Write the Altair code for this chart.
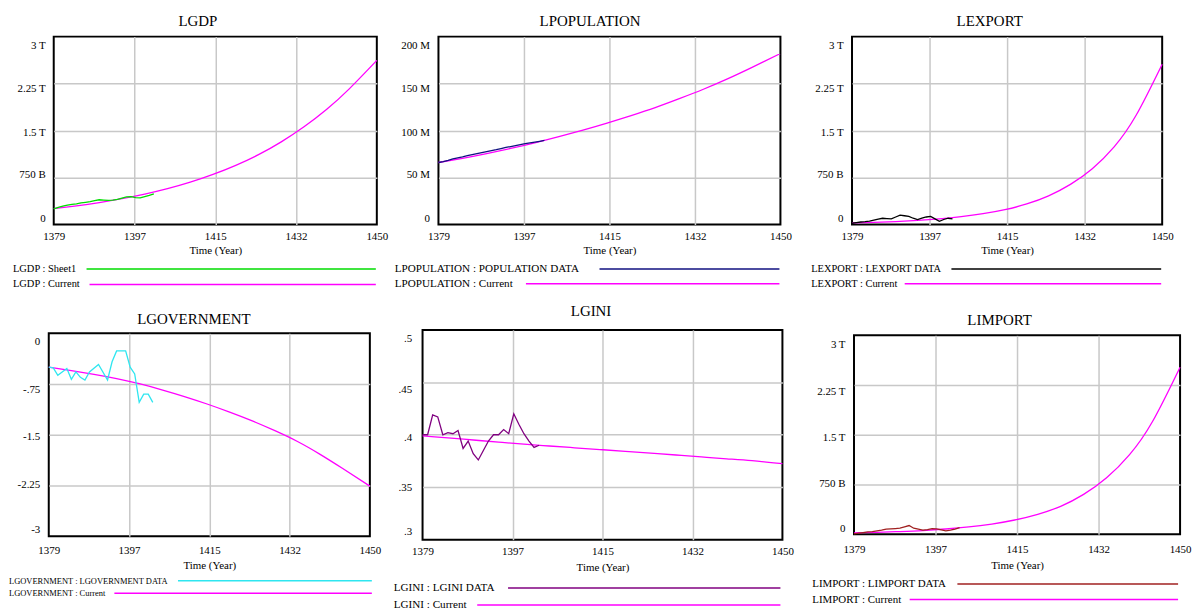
import altair as alt
import pandas as pd

# ---------------- data ----------------
CUR_YEARS = [1379, 1384, 1389, 1394, 1399, 1404, 1409, 1414, 1419, 1424, 1429, 1434, 1439, 1444, 1450]
YEARS_1401 = [1379, 1380, 1381, 1382, 1383, 1384, 1385, 1386, 1387, 1388, 1389, 1390,
              1391, 1392, 1393, 1394, 1395, 1396, 1397, 1398, 1399, 1400, 1401]
YEARS_1402 = YEARS_1401 + [1402]

# LGDP (trillions)
GDP_CURRENT = [0.254, 0.298, 0.35, 0.412, 0.485, 0.572, 0.676, 0.80, 0.945, 1.115, 1.32, 1.56, 1.84, 2.17, 2.62]
GDP_SHEET1 = [0.25, 0.275, 0.295, 0.31, 0.32, 0.33, 0.345, 0.355, 0.365, 0.38, 0.395, 0.39,
              0.385, 0.39, 0.40, 0.42, 0.44, 0.445, 0.43, 0.425, 0.445, 0.465, 0.49]
# LPOPULATION (millions)
POP_CURRENT = [66, 70.5, 75.5, 81, 87, 93.5, 100.5, 108, 116, 124.5, 134, 144, 155, 167, 182]
POP_DATA = [66, 67, 68.2, 69.8, 71, 72, 73.2, 74.3, 75.4, 76.5, 77.6, 78.6,
            79.6, 80.8, 82, 83, 84, 85, 86, 87, 87.8, 88.6, 89.5]
# LEXPORT (trillions)
EXP_CURRENT = [0.025, 0.034, 0.047, 0.065, 0.09, 0.125, 0.172, 0.237, 0.328, 0.457, 0.64, 0.89, 1.24, 1.74, 2.56]
EXP_DATA = [0.02, 0.03, 0.04, 0.045, 0.055, 0.07, 0.085, 0.10, 0.095, 0.09, 0.12, 0.15,
            0.14, 0.13, 0.10, 0.08, 0.10, 0.12, 0.13, 0.09, 0.05, 0.08, 0.10, 0.09]
# LGOVERNMENT
GOV_CURRENT = [-0.50, -0.55, -0.605, -0.668, -0.745, -0.835, -0.935, -1.045, -1.165, -1.295, -1.44, -1.60, -1.79, -2.00, -2.26]
GOV_YEARS = [1379, 1380, 1381, 1383, 1384, 1385, 1386, 1387, 1388, 1390, 1392, 1393,
             1394, 1396, 1397, 1398, 1399, 1400, 1401, 1402]
GOV_DATA = [-0.50, -0.51, -0.62, -0.52, -0.68, -0.57, -0.65, -0.69, -0.57, -0.46, -0.69, -0.42,
            -0.26, -0.26, -0.50, -0.60, -1.02, -0.90, -0.90, -1.02]
# LGINI
GINI_CURRENT = [0.399, 0.397, 0.395, 0.393, 0.391, 0.3893, 0.3876, 0.3859, 0.3842, 0.3825, 0.3807, 0.3789, 0.3771, 0.3753, 0.3725]
GINI_DATA = [0.400, 0.400, 0.419, 0.417, 0.400, 0.402, 0.401, 0.404, 0.387, 0.394, 0.382, 0.376,
             0.385, 0.394, 0.400, 0.400, 0.405, 0.401, 0.420, 0.410, 0.401, 0.394, 0.388, 0.390]
# LIMPORT (trillions)
IMP_CURRENT = [0.02, 0.028, 0.04, 0.055, 0.078, 0.109, 0.153, 0.214, 0.30, 0.42, 0.60, 0.85, 1.20, 1.70, 2.52]
IMP_DATA = [0.005, 0.015, 0.025, 0.035, 0.04, 0.05, 0.06, 0.075, 0.08, 0.085, 0.09, 0.11,
            0.13, 0.09, 0.075, 0.06, 0.07, 0.085, 0.08, 0.065, 0.05, 0.06, 0.075, 0.10]

# tick values and labels
X_TICKS = [1379, 1396.75, 1414.5, 1432.25, 1450]
X_LABELS = ["1379", "1397", "1415", "1432", "1450"]
T_TICKS = [0, 0.75, 1.5, 2.25, 3]
T_LABELS = ["0", "750 B", "1.5 T", "2.25 T", "3 T"]
M_TICKS = [0, 50, 100, 150, 200]
M_LABELS = ["0", "50 M", "100 M", "150 M", "200 M"]
G_TICKS = [-3, -2.25, -1.5, -0.75, 0]
G_LABELS = ["-3", "-2.25", "-1.5", "-.75", "0"]
N_TICKS = [0.3, 0.35, 0.4, 0.45, 0.5]
N_LABELS = [".3", ".35", ".4", ".45", ".5"]

# ---------------- styling ----------------
FONT = "Liberation Serif"
MAGENTA = "#ff00ff"
GRID = "#c8c8c8"
ONE = pd.DataFrame({"k": [0]})


def lab_expr(vals, labels):
    expr = "''"
    for v, l in zip(vals, labels):
        expr = f"abs(datum.value - ({v})) < 1e-6 ? '{l}' : " + expr
    return expr


def ends_hidden(vals):
    lo, hi = vals[0], vals[-1]
    return {"condition": {"test": f"abs(datum.value - ({lo})) < 1e-6 || abs(datum.value - ({hi})) < 1e-6",
                          "value": 0}, "value": 1}


def offsets(vals, offs):
    return {"condition": [{"test": f"abs(datum.value - ({v})) < 1e-6", "value": o} for v, o in zip(vals, offs)],
            "value": 0}


def guide(x1, y1, y2):
    # invisible rule that only pins the layout bounds
    return alt.Chart(ONE).mark_rule(strokeOpacity=0, opacity=0).encode(
        x=alt.value(x1), y=alt.value(y1), y2=alt.value(y2))


def panel(title, cur_vals, data_years, data_vals, data_color, yticks, ylabels, yoffs,
          legend, legend_fs, w, h, title_dx, title_off, xlab_pad, xtitle_y, ylab_pad, guides=()):
    cur_df = pd.DataFrame({"year": CUR_YEARS, "v": cur_vals})
    dat_df = pd.DataFrame({"year": data_years, "v": data_vals})
    x_axis = alt.Axis(values=X_TICKS, labelExpr=lab_expr(X_TICKS, X_LABELS), title="Time (Year)",
                      grid=True, gridColor=GRID, gridWidth=1.5, gridOpacity=ends_hidden(X_TICKS),
                      ticks=False, domain=False, labelPadding=xlab_pad, labelFlush=False,
                      labelOverlap=False, labelFont=FONT, labelFontSize=11, labelColor="black",
                      titleFont=FONT, titleFontSize=11, titleFontWeight="normal", titleColor="black",
                      titleBaseline="alphabetic", titleY=xtitle_y)
    y_axis = alt.Axis(values=yticks, labelExpr=lab_expr(yticks, ylabels), title=None,
                      grid=True, gridColor=GRID, gridWidth=1.5, gridOpacity=ends_hidden(yticks),
                      ticks=False, domain=False, labelPadding=ylab_pad, labelOverlap=False,
                      labelFont=FONT, labelFontSize=11, labelColor="black",
                      labelOffset=offsets(yticks, yoffs))
    x = alt.X("year:Q", scale=alt.Scale(domain=[1379, 1450], nice=False, zero=False), axis=x_axis)
    y = alt.Y("v:Q", scale=alt.Scale(domain=[yticks[0], yticks[-1]], nice=False, zero=False), axis=y_axis)
    cur = alt.Chart(cur_df).mark_line(color=MAGENTA, strokeWidth=1.3, interpolate="natural").encode(x=x, y=y)
    dat = alt.Chart(dat_df).mark_line(color=data_color, strokeWidth=1.3).encode(x=x, y=y)
    ttl = alt.Chart(ONE).mark_text(align="center", baseline="alphabetic", font=FONT, fontSize=15,
                                   color="black").encode(
        x=alt.value(w / 2 + title_dx), y=alt.value(-title_off), text=alt.value(title))
    layers = [cur, dat, ttl]
    for label, col, tx, ty, lx1, lx2 in legend:
        layers.append(alt.Chart(ONE).mark_text(align="left", baseline="middle", font=FONT,
                                               fontSize=legend_fs, color="black")
                      .encode(x=alt.value(tx), y=alt.value(ty), text=alt.value(label)))
        layers.append(alt.Chart(ONE).mark_rule(color=col, strokeWidth=1.5)
                      .encode(x=alt.value(lx1), x2=alt.value(lx2), y=alt.value(ty)))
    for g in guides:
        layers.append(guide(*g))
    return alt.layer(*layers).properties(width=w, height=h)


def spacer(w):
    return alt.Chart(ONE).mark_point(opacity=0, size=1).encode(
        x=alt.value(0), y=alt.value(0)).properties(
        width=w, height=1, view=alt.ViewBackground(stroke="transparent"))


ROW1_OFFS = [-6, -3, 1.5, 5, 9]

p1 = panel("LGDP", GDP_CURRENT, YEARS_1401, GDP_SHEET1, "#00dd00", T_TICKS, T_LABELS, ROW1_OFFS,
           [("LGDP : Sheet1", "#00dd00", -41, 233.7, 33, 324),
            ("LGDP : Current", MAGENTA, -41, 249.3, 36, 324)], 10.5,
           325, 189, -17.5, 10.7, 6, 29.3, 8.5, guides=[(0, -26, 258)])
p2 = panel("LPOPULATION", POP_CURRENT, YEARS_1401, POP_DATA, "#101080", M_TICKS, M_LABELS, ROW1_OFFS,
           [("LPOPULATION : POPULATION DATA", "#101080", -44, 233.7, 162, 343),
            ("LPOPULATION : Current", MAGENTA, -44, 248.7, 88, 343)], 11.2,
           344, 189, -19.5, 10.7, 6, 29.3, 9)
p3 = panel("LEXPORT", EXP_CURRENT, YEARS_1402, EXP_DATA, "#000000", T_TICKS, T_LABELS, ROW1_OFFS,
           [("LEXPORT : LEXPORT DATA", "#000000", -41, 233.7, 100, 311),
            ("LEXPORT : Current", MAGENTA, -41, 248.7, 53, 311)], 10.5,
           312, 189, -17.5, 10.7, 6, 29.3, 9)
p4 = panel("LGOVERNMENT", GOV_CURRENT, GOV_YEARS, GOV_DATA, "#2ee6f0", G_TICKS, G_LABELS, [-7, -1, 1.7, 5.3, 8.7],
           [("LGOVERNMENT : LGOVERNMENT DATA", "#2ee6f0", -40, 248.8, 130, 325),
            ("LGOVERNMENT : Current", MAGENTA, -40, 261.5, 66, 325)], 8.5,
           323, 204, -15.5, 9.5, 8.5, 32.2, 9)
p5 = panel("LGINI", GINI_CURRENT, YEARS_1402, GINI_DATA, "#800080", N_TICKS, N_LABELS, [-8, 0, 3, 7, 8.7],
           [("LGINI : LGINI DATA", "#800080", -29, 259.7, 86, 360),
            ("LGINI : Current", MAGENTA, -29, 276.7, 55, 360)], 11.2,
           362, 211, -11.5, 13.7, 5.7, 31, 11, guides=[(0, -28, 0)])
p6 = panel("LIMPORT", IMP_CURRENT, YEARS_1402, IMP_DATA, "#a02020", T_TICKS, T_LABELS, [-5.7, -0.7, 2.7, 6, 9.3],
           [("LIMPORT : LIMPORT DATA", "#a02020", -42, 250.2, 104, 326),
            ("LIMPORT : Current", MAGENTA, -42, 265.8, 56, 326)], 11,
           328, 200, -17.5, 10.8, 9.2, 34.2, 9)

row1 = alt.hconcat(spacer(5), p1, spacer(62), p2, spacer(72), p3, spacing=0, bounds="flush")
row2 = alt.hconcat(p4, spacer(53), p5, spacer(72), p6, spacing=0, bounds="flush", center=True)

chart = alt.vconcat(
    row1, row2,
    spacing=7,
    padding={"left": 0, "top": 0, "right": 0, "bottom": 0},
).configure_view(stroke="black", strokeWidth=2)

chart.save("out.html", embed_options={"renderer": "svg", "actions": False})
